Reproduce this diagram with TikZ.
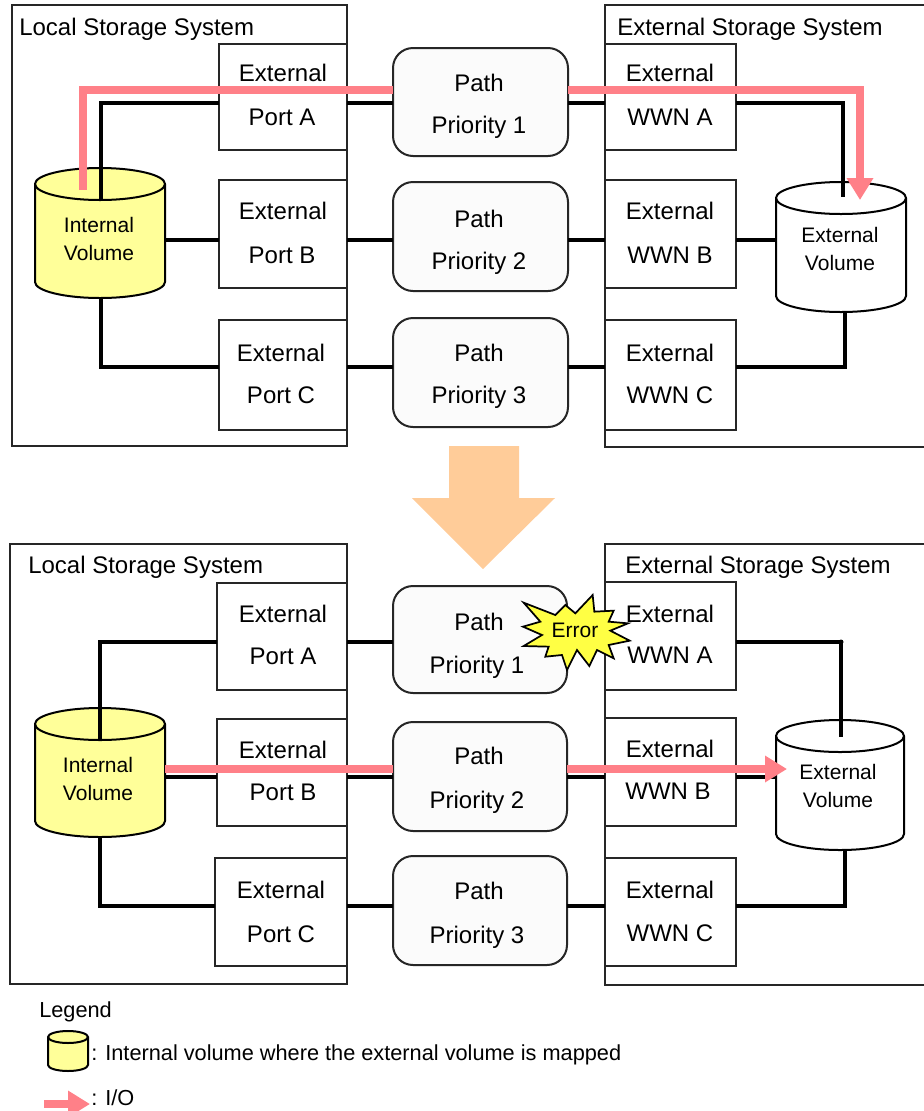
\documentclass[tikz,border=0pt]{standalone}
\usepackage{fontspec}
\setmainfont{Liberation Sans}
\usetikzlibrary{arrows.meta}
\definecolor{pinkio}{HTML}{FF8088}
\definecolor{volyel}{HTML}{FFFF99}
\definecolor{staryel}{HTML}{FFFF44}
\definecolor{bigarrow}{HTML}{FFCC99}
\definecolor{pathfill}{HTML}{FBFBFB}
\tikzset{
  framebox/.style={draw=black!85,line width=1.5pt,fill=white,inner sep=0pt,outer sep=0pt},
  portbox/.style={framebox},
  pathbox/.style={framebox,fill=pathfill,rounded corners=15pt},
  wire/.style={draw=black,line width=2.6pt},
  io/.style={draw=pinkio,line width=6.4pt},
  iotip/.style={-{Triangle[length=16.5pt,width=19pt]}},
  big/.style={font=\fontsize{18}{18}\selectfont,inner sep=0pt,anchor=base},
  bigl/.style={big,anchor=base west},
  small/.style={font=\fontsize{15.75}{16}\selectfont,inner sep=0pt,anchor=base},
  smalll/.style={font=\fontsize{16.3}{17}\selectfont,inner sep=0pt,anchor=base west},
  volghost/.style={inner sep=0pt,outer sep=0pt},
}
% name, style, x0, y0, x1, y1 (pixels)
\newcommand{\pxbox}[6]{%
  \pgfmathsetmacro{\bcx}{(#3+#5)/2}%
  \pgfmathsetmacro{\bcy}{(#4+#6)/2}%
  \pgfmathsetmacro{\bw}{(#5-#3)*0.75}%
  \pgfmathsetmacro{\bh}{(#6-#4)*0.75}%
  \node[#2,minimum width=\bw pt,minimum height=\bh pt] (#1) at (\bcx,\bcy) {};}
% name, fill, x0, y0, x1, y1, ry (pixels)
\newcommand{\pxvol}[7]{%
  \pgfmathsetmacro{\vrx}{(#5-#3)*0.375}%
  \pgfmathsetmacro{\vry}{#7*0.75}%
  \pgfmathsetmacro{\vbw}{(#5-#3)*0.75}%
  \pgfmathsetmacro{\vbh}{(#6-#4)*0.75}%
  \pgfmathsetmacro{\bcx}{(#3+#5)/2}%
  \pgfmathsetmacro{\bcy}{(#4+#6)/2}%
  \node[volghost,minimum width=\vbw pt,minimum height=\vbh pt] (#1) at (\bcx,\bcy) {};
  \draw[line width=1.5pt,fill=#2] (#3,#4+#7) -- (#3,#6-#7)
    arc[start angle=180,end angle=360,x radius=\vrx pt,y radius=\vry pt] -- (#5,#4+#7)
    arc[start angle=0,end angle=180,x radius=\vrx pt,y radius=\vry pt] -- cycle;
  \draw[line width=1.5pt] (#3,#4+#7) arc[start angle=180,end angle=360,x radius=\vrx pt,y radius=\vry pt];}
\begin{document}
\begin{tikzpicture}[x=0.75pt,y=-0.75pt]
\useasboundingbox (0,0) rectangle (924,1111);
\clip (0,0) rectangle (924,1111);
\fill[white] (0,0) rectangle (924,1111);

% ===== frames =====
\pxbox{tlocal}{framebox}{12}{5}{347}{446}
\pxbox{text}{framebox}{605}{5}{940}{447}
\pxbox{blocal}{framebox}{10}{544}{347}{984}
\pxbox{bext}{framebox}{605}{544}{940}{985}

% ===== big arrow =====
\fill[bigarrow] (449,446) -- (519,446) -- (519,498) -- (555,498) -- (483,569) -- (412,498) -- (449,498) -- cycle;

% ===== top panel boxes =====
\pxbox{tpa}{portbox}{219}{44}{347}{150}
\pxbox{tpb}{portbox}{219}{180}{347}{288}
\pxbox{tpc}{portbox}{219}{320}{347}{430}
\pxbox{tq1}{pathbox}{393}{48}{568}{156}
\pxbox{tq2}{pathbox}{393}{182}{568}{291}
\pxbox{tq3}{pathbox}{393}{318}{568}{427}
\pxbox{twa}{portbox}{605}{44}{736}{150}
\pxbox{twb}{portbox}{605}{180}{736}{288}
\pxbox{twc}{portbox}{605}{320}{736}{430}
\pxvol{tiv}{volyel}{35}{168}{165}{298}{16}
\pxvol{tev}{white}{776}{182}{906}{312}{16}

% ===== bottom panel boxes =====
\pxbox{bpa}{portbox}{217}{583}{347}{690}
\pxbox{bpb}{portbox}{217}{719}{347}{826}
\pxbox{bpc}{portbox}{215}{858}{347}{966}
\pxbox{bq1}{pathbox}{393}{586}{567}{693}
\pxbox{bq2}{pathbox}{393}{722}{567}{831}
\pxbox{bq3}{pathbox}{393}{856}{567}{965}
\pxbox{bwa}{portbox}{605}{582}{736}{690}
\pxbox{bwb}{portbox}{605}{718}{736}{826}
\pxbox{bwc}{portbox}{605}{858}{736}{966}
\pxvol{biv}{volyel}{35}{708}{165}{837}{16}
\pxvol{bev}{white}{776}{720}{904}{850}{16}

% ===== reference levels and free ends =====
\coordinate (ta) at (0,103);
\coordinate (tb) at (0,240);
\coordinate (tc) at (0,367);
\coordinate (ba) at (0,642);
\coordinate (bb) at (0,777);
\coordinate (bc) at (0,906);
\coordinate (tivtop) at (101,200);
\coordinate (tivbot) at (101,298);
\coordinate (tevtop) at (843,197);
\coordinate (tevbot) at (845,312);
\coordinate (bivtop) at (100,740);
\coordinate (bivbot) at (100,837);
\coordinate (bevtop) at (841,737);
\coordinate (bevbot) at (845,850);

% ===== top wires =====
\draw[wire] (tivtop) |- (tpa.west |- ta);
\draw[wire] (tpa.east |- ta) -- (tq1.west |- ta);
\draw[wire] (tq1.east |- ta) -- (twa.west |- ta);
\draw[wire] (twa.east |- ta) -| (tevtop);
\draw[wire] (tiv.east |- tb) -- (tpb.west |- tb);
\draw[wire] (tpb.east |- tb) -- (tq2.west |- tb);
\draw[wire] (tq2.east |- tb) -- (twb.west |- tb);
\draw[wire] (twb.east |- tb) -- (tev.west |- tb);
\draw[wire] (tivbot) |- (tpc.west |- tc);
\draw[wire] (tpc.east |- tc) -- (tq3.west |- tc);
\draw[wire] (tq3.east |- tc) -- (twc.west |- tc);
\draw[wire] (twc.east |- tc) -| (tevbot);

% ===== bottom wires =====
\draw[wire] (bivtop) |- (bpa.west |- ba);
\draw[wire] (bpa.east |- ba) -- (bq1.west |- ba);
\draw[wire] (bwa.east |- ba) -| (bevtop);
\fill (bevtop |- ba) circle[radius=2.5];
\draw[wire] (biv.east |- bb) -- (bpb.west |- bb);
\draw[wire] (bpb.east |- bb) -- (bq2.west |- bb);
\draw[wire] (bq2.east |- bb) -- (bwb.west |- bb);
\draw[wire] (bwb.east |- bb) -- (bev.west |- bb);
\draw[wire] (bivbot) |- (bpc.west |- bc);
\draw[wire] (bpc.east |- bc) -- (bq3.west |- bc);
\draw[wire] (bq3.east |- bc) -- (bwc.west |- bc);
\draw[wire] (bwc.east |- bc) -| (bevbot);

% ===== I/O arrows =====
\coordinate (tpy) at (0,90);
\coordinate (tpstart) at (83,190);
\coordinate (tpend) at (860,200);
\coordinate (bpy) at (0,769);
\coordinate (bpend) at (787,769);
\draw[io] (tpstart) |- (tq1.west |- tpy);
\draw[io,iotip] (tq1.east |- tpy) -| (tpend);
\draw[io] (biv.east |- bpy) -- (bq2.west |- bpy);
\draw[io,iotip] (bq2.east |- bpy) -- (bpend);

% ===== error star =====
\begin{scope}[shift={(462,540)},x=0.25pt,y=-0.25pt]
\draw[line width=1.3pt,fill=staryel,line join=miter]
 (185,188) -- (280,225) -- (310,195) -- (340,220) -- (392,165) -- (397,215) -- (455,212)
 -- (440,245) -- (498,250) -- (445,272) -- (503,302) -- (440,315) -- (455,355) -- (405,330)
 -- (382,378) -- (345,330) -- (315,390) -- (300,345) -- (250,350) -- (260,320) -- (185,318)
 -- (240,285) -- (183,260) -- (235,245) -- cycle;
\end{scope}

% ===== top labels =====
\node[bigl] (n1) at (19,35) {Local Storage System};
\node[bigl] (n2) at (617,35) {External Storage System};
\node[big] (n3) at (283,81) {External};
\node[big] (n4) at (282,125) {Port A};
\node[big] (n5) at (283,219) {External};
\node[big] (n6) at (282,263) {Port B};
\node[big] (n7) at (281,361) {External};
\node[big] (n8) at (281,403) {Port C};
\node[big] (n9) at (479,91) {Path};
\node[big] (n10) at (479,133) {Priority 1};
\node[big] (n11) at (479,227) {Path};
\node[big] (n12) at (479,269) {Priority 2};
\node[big] (n13) at (479,361) {Path};
\node[big] (n14) at (479,403) {Priority 3};
\node[big] (n15) at (670,81) {External};
\node[big] (n16) at (670,125) {WWN A};
\node[big] (n17) at (670,219) {External};
\node[big] (n18) at (670,263) {WWN B};
\node[big] (n19) at (670,361) {External};
\node[big] (n20) at (670,403) {WWN C};
\node[small] (n21) at (99,232) {Internal};
\node[small] (n22) at (99,260) {Volume};
\node[small] (n23) at (840,242) {External};
\node[small] (n24) at (840,270) {Volume};

% ===== bottom labels =====
\node[bigl] (m1) at (28,573) {Local Storage System};
\node[bigl] (m2) at (625,573) {External Storage System};
\node[big] (m3) at (283,622) {External};
\node[big] (m4) at (283,664) {Port A};
\node[big] (m5) at (283,758) {External};
\node[big] (m6) at (283,800) {Port B};
\node[big] (m7) at (281,898) {External};
\node[big] (m8) at (281,942) {Port C};
\node[big] (m9) at (479,630) {Path};
\node[big] (m10) at (477,673) {Priority 1};
\node[big] (m11) at (479,764) {Path};
\node[big] (m12) at (477,808) {Priority 2};
\node[big] (m13) at (479,899) {Path};
\node[big] (m14) at (477,943) {Priority 3};
\node[big] (m15) at (670,622) {External};
\node[big] (m16) at (670,663) {WWN A};
\node[big] (m17) at (670,757) {External};
\node[big] (m18) at (668,799) {WWN B};
\node[big] (m19) at (670,898) {External};
\node[big] (m20) at (670,941) {WWN C};
\node[small] (m21) at (98,772) {Internal};
\node[small] (m22) at (98,800) {Volume};
\node[small] (m23) at (838,779) {External};
\node[small] (m24) at (838,807) {Volume};
\node[small] (err) at (575,637) {Error};

% ===== legend =====
\node[smalll] (lg) at (39,1017) {Legend};
\pxvol{lgv}{volyel}{48}{1031}{88}{1071}{6}
\node[smalll] (lgt) at (91,1060) {: Internal volume where the external volume is mapped};
\coordinate (lga) at (44,1104);
\coordinate (lgb) at (90,1104);
\draw[io,line width=5.5pt,iotip] (lga) -- (lgb);
\node[smalll] (lgo) at (91,1105) {: I/O};
\end{tikzpicture}
\end{document}
